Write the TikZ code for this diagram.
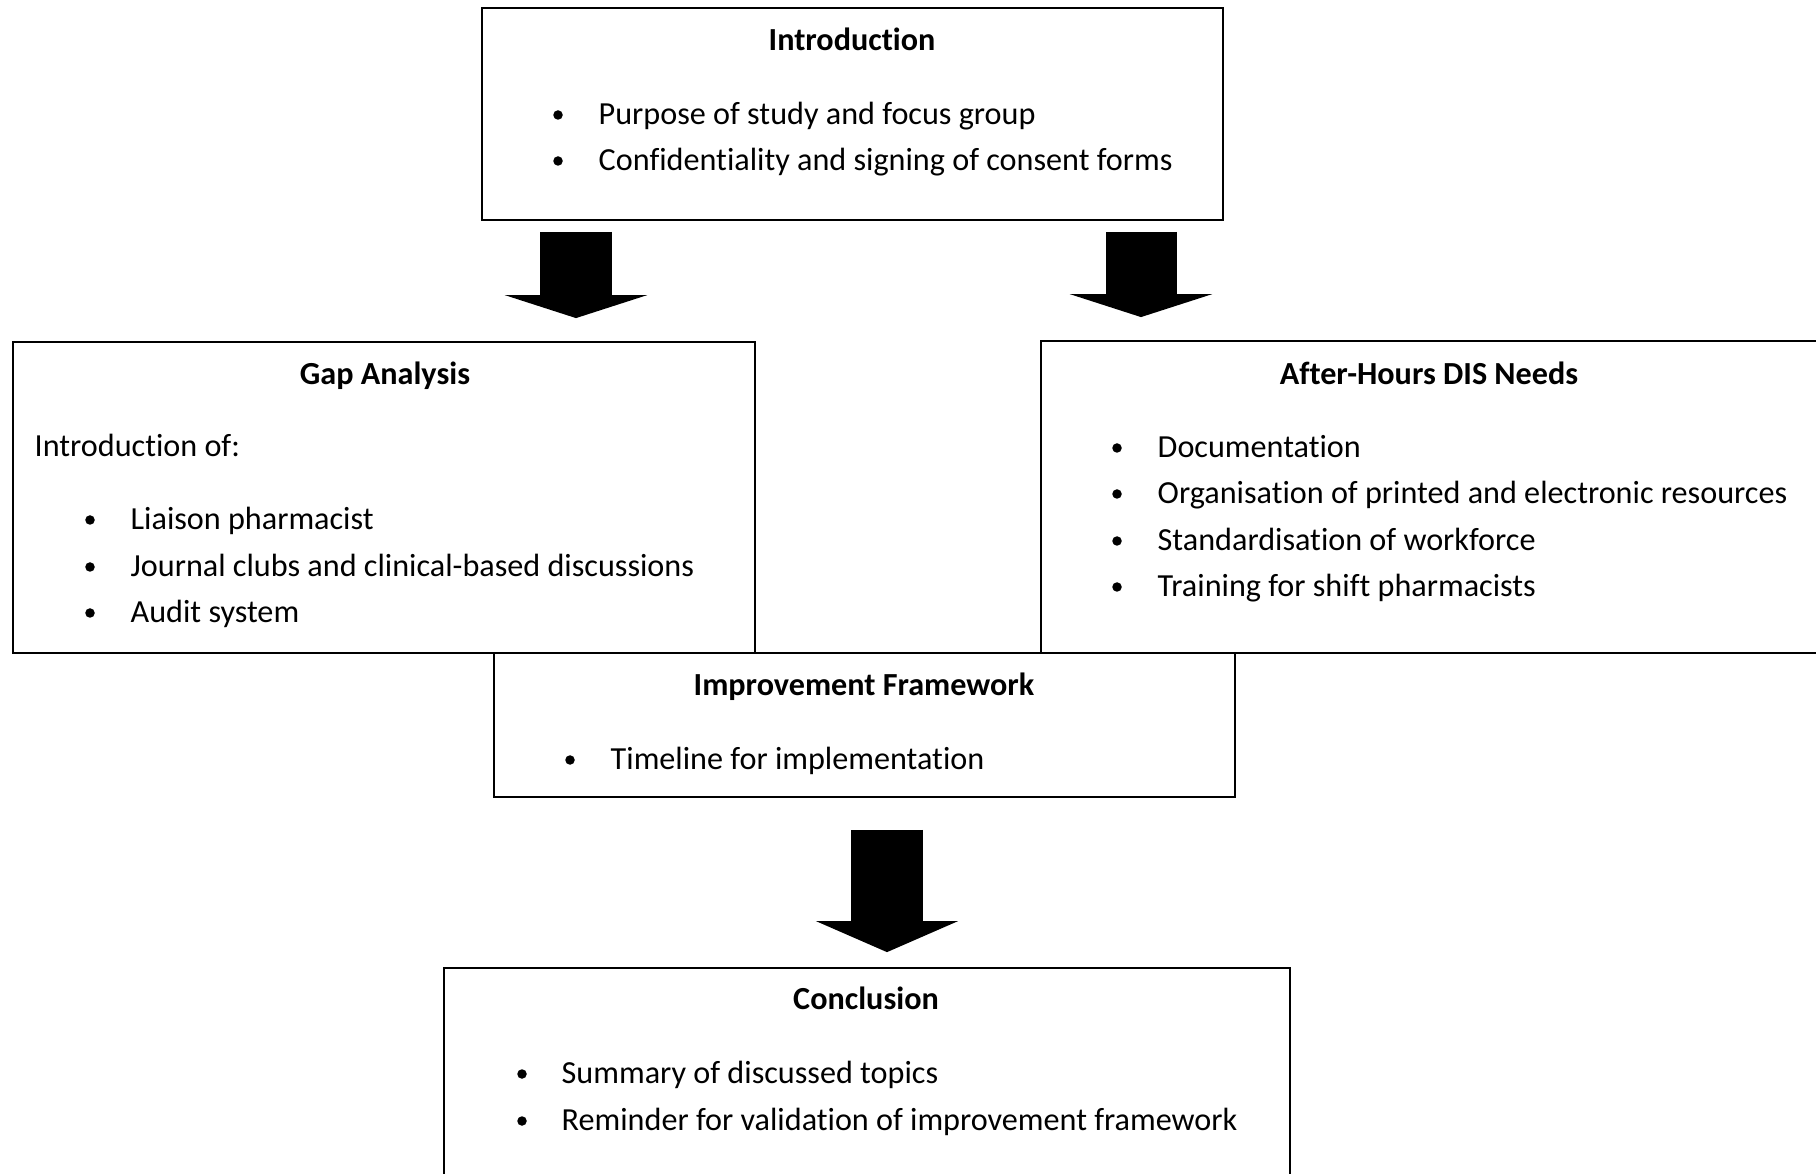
\documentclass[tikz,border=0pt]{standalone}
\usepackage{fontspec}
\setmainfont[Ligatures=NoCommon]{Carlito}
\usetikzlibrary{arrows.meta}
\tikzstyle{box} = [draw, line width=.45pt, inner sep=0pt]
\tikzstyle{dot} = [circle, minimum width=0.095cm, fill, inner sep=0pt, yshift=-0.02cm]
\tikzstyle{head} = [font=\bfseries\fontsize{9.15}{11}\selectfont, inner sep=0pt, text height=1.5ex, text depth=.4ex, yshift=-0.02cm]
\tikzstyle{txt} = [anchor=west, font=\fontsize{9.15}{11}\selectfont, inner sep=0pt, text height=1.5ex, text depth=.4ex, yshift=-0.02cm]
\tikzstyle{bigarrow} = [line width=0.71cm, -{Triangle[width=1.42cm,length=0.23cm]}]

\begin{document}
\begin{tikzpicture}[x=0.01cm,y=-0.01cm]
\useasboundingbox (0,0) rectangle (1816,1174);
\clip (0,0) rectangle (1816,1174);
% boxes
\node[box, minimum width=7.41cm, minimum height=2.12cm] (intro) at (852.5,114) {};
\node[box, minimum width=7.42cm, minimum height=3.11cm] (gap) at (384,497.5) {};
\node[box, minimum width=7.77cm, minimum height=3.12cm] (dis) at (1429.5,497) {};
\node[box, minimum width=7.41cm, minimum height=1.44cm] (impr) at (864.5,725) {};
\node[box, minimum width=8.46cm, minimum height=2.22cm] (concl) at (867,1079) {};
% Introduction
\node[head] (introT) at (852,39) {Introduction};
\node[dot] (introB1) at (558,113) {};
\node[txt] (intro1) at (598,113) {Purpose of study and focus group};
\node[dot] (introB2) at (558,159) {};
\node[txt] (intro2) at (598,159) {Confidentiality and signing of consent forms};
% Gap Analysis
\node[head] (gapT) at (385,373) {Gap Analysis};
\node[txt] (gap0) at (34,445) {Introduction of:};
\node[dot] (gapB1) at (90,518) {};
\node[txt] (gap1) at (130,518) {Liaison pharmacist};
\node[dot] (gapB2) at (90,565) {};
\node[txt] (gap2) at (130,565) {Journal clubs and clinical-based discussions};
\node[dot] (gapB3) at (90,611) {};
\node[txt] (gap3) at (130,611) {Audit system};
% After-Hours DIS Needs
\node[head] (disT) at (1429,373) {After-Hours DIS Needs};
\node[dot] (disB1) at (1117,446) {};
\node[txt] (dis1) at (1157,446) {Documentation};
\node[dot] (disB2) at (1117,492) {};
\node[txt] (dis2) at (1157,492) {Organisation of printed and electronic resources};
\node[dot] (disB3) at (1117,539) {};
\node[txt] (dis3) at (1157,539) {Standardisation of workforce};
\node[dot] (disB4) at (1117,585) {};
\node[txt] (dis4) at (1157,585) {Training for shift pharmacists};
% Improvement Framework
\node[head] (imprT) at (864,684) {Improvement Framework};
\node[dot] (imprB1) at (570,758) {};
\node[txt] (impr1) at (610,758) {Timeline for implementation};
% Conclusion
\node[head] (conclT) at (866,998) {Conclusion};
\node[dot] (conclB1) at (522,1072) {};
\node[txt] (concl1) at (561,1072) {Summary of discussed topics};
\node[dot] (conclB2) at (522,1119) {};
\node[txt] (concl2) at (561,1119) {Reminder for validation of improvement framework};
% block arrows
\coordinate (ga) at (576,0);
\coordinate (da) at (1141,0);
\coordinate (ca) at (887,0);
\draw[bigarrow, shorten <=0.11cm, shorten >=0.23cm] (intro.south -| ga) -- (gap.north -| ga);
\draw[bigarrow, shorten <=0.11cm, shorten >=0.23cm] (intro.south -| da) -- (dis.north -| da);
\draw[line width=0.71cm, -{Triangle[width=1.41cm,length=0.31cm]}, shorten <=0.32cm, shorten >=0.15cm] (impr.south -| ca) -- (concl.north -| ca);
\end{tikzpicture}
\end{document}
